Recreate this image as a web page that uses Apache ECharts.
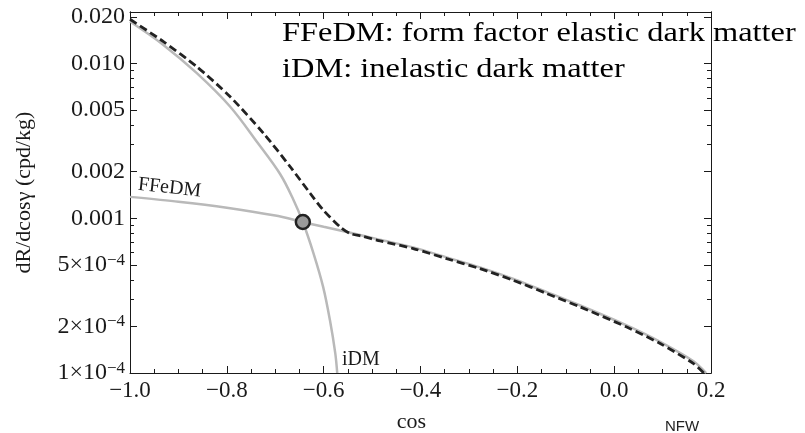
<!DOCTYPE html>
<html>
<head>
<meta charset="utf-8">
<script src="https://cdn.jsdelivr.net/npm/echarts@6/dist/echarts.min.js"></script>
<style>
html, body { margin: 0; padding: 0; background: #fff; }
#main { width: 805px; height: 433px; }
</style>
</head>
<body>
<div id="main"></div>
<script>
// values
const ffedmX = [-1.0, -0.9, -0.8, -0.7, -0.643, -0.6, -0.545, -0.483, -0.415, -0.346, -0.277, -0.208, -0.139, -0.070, 0.026, 0.095, 0.164, 0.19];
const ffedmY = [0.001374, 0.00128, 0.00117, 0.00104, 0.000945, 0.00088, 0.000805, 0.000725, 0.000648, 0.000558, 0.000481, 0.000405, 0.000333, 0.000273, 0.000203, 0.000159, 0.000119, 0.0001];

const idmX = [-1.0, -0.931, -0.862, -0.793, -0.736, -0.690, -0.663, -0.643, -0.621, -0.601, -0.587, -0.576, -0.572];
const idmY = [0.01866, 0.01318, 0.00865, 0.00525, 0.00306, 0.00193, 0.001327, 0.000945, 0.000593, 0.000359, 0.000219, 0.000134, 0.0001];

const totalX = [-1.0, -0.931, -0.862, -0.793, -0.724, -0.669, -0.628, -0.601, -0.566, -0.545, -0.52, -0.483, -0.415, -0.346, -0.277, -0.208, -0.139, -0.070, 0.026, 0.095, 0.164, 0.185];
const totalY = [0.0193, 0.01384, 0.00953, 0.00609, 0.00353, 0.00215, 0.00145, 0.00113, 0.000879, 0.000796, 0.000765, 0.000713, 0.000637, 0.000548, 0.000472, 0.000397, 0.000326, 0.000267, 0.000198, 0.000155, 0.000115, 0.0001];

const crossPoint = [-0.643, 0.000945];

const xTickLabels = ['−1.0', '−0.8', '−0.6', '−0.4', '−0.2', '0.0', '0.2'];
const yTicks = [0.0001, 0.0002, 0.0005, 0.001, 0.002, 0.005, 0.010, 0.020];
const yTickLabels = ['1×10^−4', '2×10^−4', '5×10^−4', '0.001', '0.002', '0.005', '0.010', '0.020'];
const yMinorTicks = [0.0003, 0.0004, 0.0006, 0.0007, 0.0008, 0.0009, 0.003, 0.004, 0.006, 0.007, 0.008, 0.009];

const yMin = 0.0001;
const yMax = 0.0215;
const serif = 'Liberation Serif';
const ink = '#1a1a1a';
const gray = '#b9b9b9';

function pairs(xs, ys) {
  return xs.map((x, i) => [x, ys[i]]);
}

function yLabel(v) {
  const i = yTicks.findIndex(t => Math.abs(Math.log10(t) - v) < 1e-6);
  if (i < 0) return '';
  const s = yTickLabels[i];
  if (s.indexOf('^') < 0) return '{m|' + s + '}';
  const p = s.split('^');
  return '{m|' + p[0] + '}{s|' + p[1] + '}';
}

function tickAxis(pos, values, len, withLabels) {
  return {
    type: 'value',
    position: pos,
    min: -4,
    max: Math.log10(yMax),
    axisLine: { show: true, onZero: false, lineStyle: { color: ink, width: 1 } },
    axisTick: { show: true, inside: true, length: len, customValues: values.map(Math.log10), lineStyle: { color: ink } },
    axisLabel: withLabels ? {
      show: true,
      margin: 5,
      customValues: values.map(Math.log10),
      formatter: yLabel,
      rich: {
        m: { fontFamily: serif, fontSize: 24, color: ink, lineHeight: 26 },
        s: { fontFamily: serif, fontSize: 17, color: ink, verticalAlign: 'top' }
      }
    } : { show: false },
    splitLine: { show: false }
  };
}

const xBase = {
  type: 'value',
  min: -1.0,
  max: 0.2,
  interval: 0.2,
  axisLine: { show: true, onZero: false, lineStyle: { color: ink, width: 1 } },
  axisTick: { show: true, inside: true, length: 7, lineStyle: { color: ink } },
  minorTick: { show: true, splitNumber: 4, length: 4, lineStyle: { color: ink } },
  splitLine: { show: false },
  minorSplitLine: { show: false }
};

const chart = echarts.init(document.getElementById('main'));
chart.setOption({
  animation: false,
  backgroundColor: '#fff',
  grid: { left: 130, right: 94, top: 12, bottom: 60, containLabel: false, outerBoundsMode: 'none' },
  xAxis: [
    Object.assign({}, xBase, {
      position: 'bottom',
      name: 'cos',
      nameLocation: 'middle',
      nameGap: 38,
      nameTextStyle: { fontFamily: serif, fontSize: 22, color: ink, padding: [0, 18, 0, 0] },
      axisLabel: {
        margin: 6,
        fontFamily: serif,
        fontSize: 23,
        color: ink,
        formatter: v => xTickLabels[Math.round((v + 1) / 0.2)] || ''
      }
    }),
    Object.assign({}, xBase, { position: 'top', axisLabel: { show: false } })
  ],
  yAxis: [
    { type: 'log', logBase: 10, min: yMin, max: yMax, show: false },
    Object.assign(tickAxis('left', yTicks, 7, true), {
      name: 'dR/dcosγ (cpd/kg)',
      nameLocation: 'middle',
      nameGap: 95,
      nameTextStyle: { fontFamily: serif, fontSize: 22, color: ink }
    }),
    tickAxis('left', yMinorTicks, 4, false),
    tickAxis('right', yTicks, 7, false),
    tickAxis('right', yMinorTicks, 4, false)
  ],
  series: [
    {
      name: 'FFeDM',
      type: 'line',
      data: pairs(ffedmX, ffedmY),
      showSymbol: false,
      smooth: 0.25,
      lineStyle: { color: gray, width: 2.5 },
      z: 2
    },
    {
      name: 'iDM',
      type: 'line',
      data: pairs(idmX, idmY),
      showSymbol: false,
      smooth: 0.35,
      lineStyle: { color: gray, width: 2.5 },
      z: 2
    },
    {
      name: 'total',
      type: 'line',
      data: pairs(totalX, totalY),
      showSymbol: false,
      smooth: 0.25,
      lineStyle: { color: '#222', width: 2.8, type: [8, 4] },
      z: 3
    },
    {
      type: 'scatter',
      data: [crossPoint],
      symbol: 'circle',
      symbolSize: 14,
      itemStyle: { color: '#9a9a9a', borderColor: '#222', borderWidth: 2.5, opacity: 1 },
      z: 4
    }
  ],
  graphic: [
    { type: 'text', x: 282, y: 34, scaleX: 1.2, style: { text: 'FFeDM: form factor elastic dark matter', font: '27px "Liberation Serif"', fill: '#000', textVerticalAlign: 'middle', verticalAlign: 'middle' }, z: 10 },
    { type: 'text', x: 282, y: 69.5, scaleX: 1.2, style: { text: 'iDM: inelastic dark matter', font: '27px "Liberation Serif"', fill: '#000', textVerticalAlign: 'middle', verticalAlign: 'middle' }, z: 10 },
    { type: 'text', x: 138, y: 184.5, rotation: -0.108, style: { text: 'FFeDM', font: '20px "Liberation Serif"', fill: ink, textVerticalAlign: 'middle', verticalAlign: 'middle' }, z: 10 },
    { type: 'text', x: 342, y: 360, style: { text: 'iDM', font: '20px "Liberation Serif"', fill: ink, textVerticalAlign: 'middle', verticalAlign: 'middle' }, z: 10 },
    { type: 'text', x: 665, y: 427, style: { text: 'NFW', font: '15px "Liberation Sans"', fill: '#222', textVerticalAlign: 'middle', verticalAlign: 'middle' }, z: 10 }
  ]
});
</script>
</body>
</html>
